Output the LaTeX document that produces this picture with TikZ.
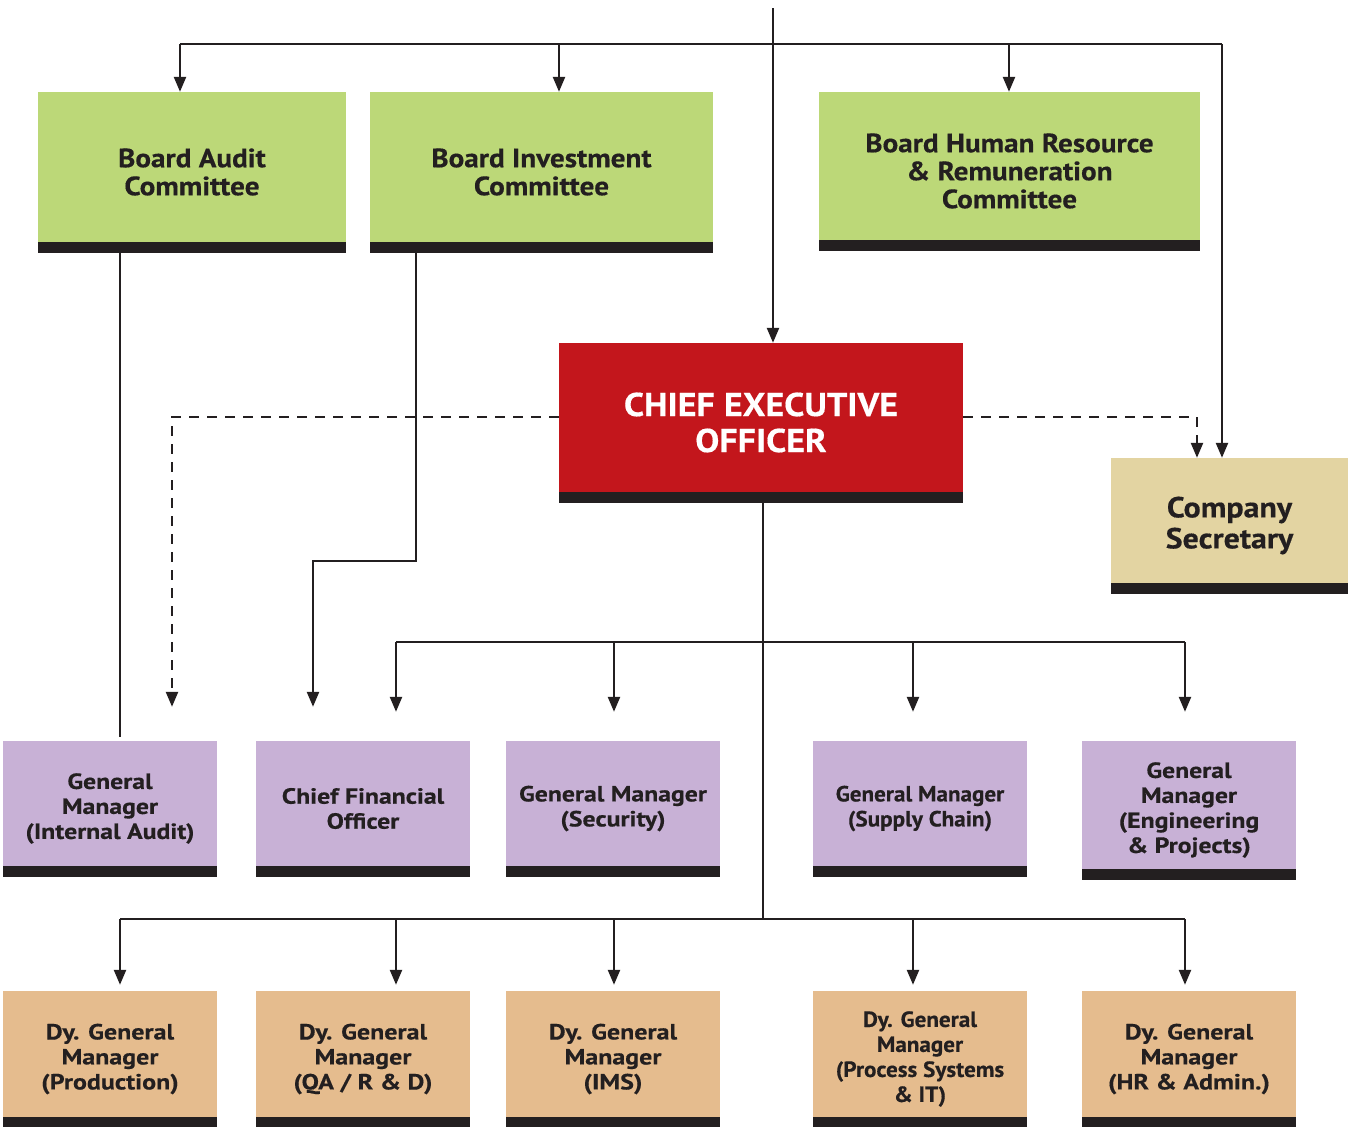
\documentclass[tikz,border=0pt]{standalone}
\usepackage{fontspec}
\setmainfont{PT Sans}[BoldFeatures={FakeBold=0.4}]
\usetikzlibrary{arrows.meta}

\definecolor{ink}{HTML}{231F20}
\definecolor{boardgreen}{HTML}{BCD878}
\definecolor{ceored}{HTML}{C3161C}
\definecolor{sectan}{HTML}{E3D4A2}
\definecolor{gmlilac}{HTML}{C8B1D6}
\definecolor{dgmtan}{HTML}{E5BC8E}

\tikzset{
  card/.style={draw=none, inner sep=0pt, align=center, text=ink,
    path picture={\fill[ink] ([yshift=-1pt]path picture bounding box.south west)
      rectangle ([yshift=10pt]path picture bounding box.south east);}},
  boardcard/.style={card, fill=boardgreen, minimum width=#1, minimum height=160pt,
    font=\bfseries\fontsize{26.5}{28}\selectfont\addfontfeatures{FakeStretch=1.1}},
  ceocard/.style={card, fill=ceored, text=white, minimum width=404pt, minimum height=159pt,
    font=\bfseries\fontsize{33}{36}\selectfont\addfontfeatures{FakeStretch=1.09}},
  seccard/.style={card, fill=sectan, minimum width=237pt, minimum height=135pt,
    font=\bfseries\fontsize{29}{31}\selectfont\addfontfeatures{FakeStretch=1.1}},
  gmcard/.style={card, fill=gmlilac, minimum width=214pt, minimum height=135pt,
    font=\bfseries\fontsize{22}{25}\selectfont\addfontfeatures{FakeStretch=1.17}},
  dgmcard/.style={card, fill=dgmtan, minimum width=214pt, minimum height=136pt,
    font=\bfseries\fontsize{22}{25}\selectfont\addfontfeatures{FakeStretch=1.18}},
  narrow/.style={font=\bfseries\fontsize{22}{25}\selectfont\addfontfeatures{FakeStretch=1.05}},
  wire/.style={draw=ink, line width=2.4pt},
  arr/.style={wire, -{Triangle[length=15pt,width=12pt]}},
  dasharr/.style={arr, dash pattern=on 10pt off 8pt},
}

\begin{document}
\begin{tikzpicture}[x=1pt,y=-1pt]
\useasboundingbox (0,0) rectangle (1350,1127);

% board committees
\node[boardcard=308pt] (bac) at (192,172) {Board Audit\\Committee};
\node[boardcard=343pt] (bic) at (541.5,172) {Board Investment\\Committee};
\node[boardcard=381pt, minimum height=158pt] (bhr) at (1009.5,171) {Board Human Resource\\\& Remuneration\\Committee};

% chief executive and company secretary
\node[ceocard] (ceo) at (761,422.5) {CHIEF EXECUTIVE\\OFFICER};
\node[seccard] (cs) at (1229.5,525.5) {Company\\Secretary};

% general managers
\node[gmcard] (gia) at (110,808.5) {General\\Manager\\(Internal Audit)};
\node[gmcard] (cfo) at (363,808.5) {Chief Financial\\Officer};
\node[gmcard] (gsec) at (613,808.5) {General Manager\\(Security)};
\node[gmcard, narrow] (gsc) at (920,808.5) {General Manager\\(Supply Chain)};
\node[gmcard, minimum height=138pt] (gep) at (1189,810) {General\\Manager\\(Engineering\\\& Projects)};

% deputy general managers
\node[dgmcard] (dpr) at (110,1059) {Dy. General\\Manager\\(Production)};
\node[dgmcard] (dqa) at (363,1059) {Dy. General\\Manager\\(QA / R \& D)};
\node[dgmcard] (dims) at (613,1059) {Dy. General\\Manager\\(IMS)};
\node[dgmcard, narrow] (dps) at (920,1059) {Dy. General\\Manager\\(Process Systems\\\& IT)};
\node[dgmcard] (dhr) at (1189,1059) {Dy. General\\Manager\\(HR \& Admin.)};

% routing points
\coordinate (top) at (773,8);
\coordinate (b1) at (180,44);
\coordinate (b2) at (559,44);
\coordinate (b3) at (1009,44);
\coordinate (b4) at (1222,44);
\coordinate (dl) at (172,417);
\coordinate (dr) at (1197,417);
\coordinate (ia) at (120,737);
\coordinate (k1) at (416,561);
\coordinate (k2) at (313,561);
\coordinate (c1) at (763,642);
\coordinate (c2) at (763,919);
\coordinate (m1) at (396,642);
\coordinate (m2) at (614,642);
\coordinate (m3) at (913,642);
\coordinate (m4) at (1185,642);
\coordinate (l1) at (120,919);
\coordinate (l2) at (396,919);
\coordinate (l3) at (614,919);
\coordinate (l4) at (913,919);
\coordinate (l5) at (1185,919);

% board bus
\draw[arr] (top) -- (top |- ceo.north);
\draw[wire] (b1) -- (b4);
\draw[arr] (b1) -- (b1 |- bac.north);
\draw[arr] (b2) -- (b2 |- bic.north);
\draw[arr] (b3) -- (b3 |- bhr.north);
\draw[arr] (b4) -- (b4 |- cs.north);

% dotted reporting lines from the CEO
\draw[dasharr, shorten >=34pt] (dl -| ceo.west) -- (dl) -- (dl |- gia.north);
\draw[dasharr] (dr -| ceo.east) -- (dr) -- (dr |- cs.north);

% committee reporting lines
\draw[wire] (ia |- bac.south) -- (ia);
\draw[arr, shorten >=34pt] (k1 |- bic.south) -- (k1) -- (k2) -- (k2 |- cfo.north);

% CEO trunk and general manager bus
\draw[wire] (c1 |- ceo.south) -- (c2);
\draw[wire] (m1) -- (m4);
\draw[arr, shorten >=29pt] (m1) -- (m1 |- cfo.north);
\draw[arr, shorten >=29pt] (m2) -- (m2 |- gsec.north);
\draw[arr, shorten >=29pt] (m3) -- (m3 |- gsc.north);
\draw[arr, shorten >=29pt] (m4) -- (m4 |- gep.north);

% deputy general manager bus
\draw[wire] (l1) -- (l5);
\draw[arr, shorten >=6pt] (l1) -- (l1 |- dpr.north);
\draw[arr, shorten >=6pt] (l2) -- (l2 |- dqa.north);
\draw[arr, shorten >=6pt] (l3) -- (l3 |- dims.north);
\draw[arr, shorten >=6pt] (l4) -- (l4 |- dps.north);
\draw[arr, shorten >=6pt] (l5) -- (l5 |- dhr.north);
\end{tikzpicture}
\end{document}
